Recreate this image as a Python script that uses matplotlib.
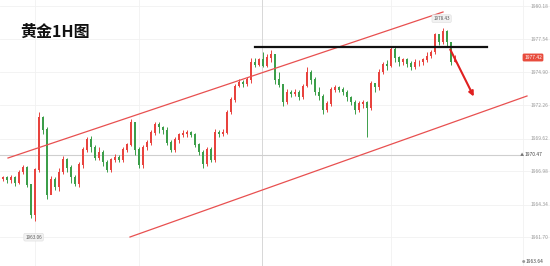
import numpy as np
import matplotlib
matplotlib.use("Agg")
import matplotlib.pyplot as plt

plt.rcParams['font.family'] = ['Noto Sans CJK SC', 'DejaVu Sans']

# 1H gold candles
first_open = 1966.4
close = [1966.5, 1966.3, 1966.5, 1966.1, 1966.9, 1967.3, 1965.9, 1963.5, 1967.1, 1971.3,
         1970.3, 1965.1, 1966.3, 1965.7, 1966.9, 1967.9, 1967.3, 1966.5, 1966.0, 1967.5,
         1968.7, 1969.5, 1968.9, 1968.1, 1968.5, 1967.7, 1967.1, 1967.9, 1968.1, 1967.9,
         1968.7, 1969.1, 1970.9, 1968.7, 1967.5, 1968.9, 1969.3, 1970.1, 1970.7, 1970.5,
         1970.3, 1969.3, 1968.7, 1969.5, 1969.9, 1970.0, 1970.1, 1969.9, 1969.1, 1968.5,
         1967.6, 1968.7, 1967.9, 1970.1, 1970.0, 1970.1, 1971.7, 1972.7, 1973.8, 1974.1,
         1974.0, 1974.3, 1975.7, 1975.5, 1975.9, 1975.4, 1976.1, 1976.3, 1974.3, 1973.9,
         1972.5, 1973.3, 1973.2, 1973.3, 1972.9, 1973.8, 1974.9, 1974.3, 1973.3, 1973.0,
         1971.9, 1972.4, 1973.5, 1973.7, 1973.5, 1973.3, 1972.9, 1972.5, 1971.9, 1972.4,
         1972.5, 1972.1, 1974.0, 1973.7, 1974.9, 1975.5, 1975.4, 1976.7, 1976.1, 1975.7,
         1975.9, 1975.6, 1975.3, 1975.7, 1975.7, 1975.9, 1976.2, 1976.5, 1977.9, 1977.3,
         1978.2, 1977.3, 1975.7, 1976.1]
high = [1966.6, 1966.6, 1966.7, 1966.6, 1967.1, 1967.5, 1967.4, 1966.0, 1967.3, 1971.7,
        1971.4, 1970.5, 1966.6, 1966.5, 1967.3, 1968.2, 1968.1, 1967.5, 1966.7, 1967.7,
        1968.9, 1969.7, 1969.8, 1969.1, 1968.9, 1968.7, 1967.9, 1968.1, 1968.4, 1968.3,
        1968.9, 1969.3, 1971.2, 1970.8, 1968.9, 1969.1, 1969.5, 1970.3, 1970.9, 1970.9,
        1970.6, 1970.5, 1969.5, 1969.7, 1970.1, 1970.3, 1970.3, 1970.2, 1970.1, 1969.3,
        1968.7, 1968.9, 1968.9, 1970.4, 1970.3, 1970.4, 1971.9, 1972.9, 1974.0, 1974.4,
        1974.3, 1974.5, 1976.1, 1976.1, 1976.1, 1976.5, 1976.4, 1976.7, 1976.4, 1974.9,
        1974.0, 1973.6, 1973.5, 1973.6, 1973.5, 1974.0, 1975.3, 1975.1, 1974.5, 1973.7,
        1973.2, 1972.6, 1973.7, 1973.9, 1973.8, 1973.7, 1973.5, 1973.0, 1972.7, 1972.6,
        1972.7, 1972.6, 1974.2, 1974.1, 1975.2, 1975.7, 1975.9, 1976.9, 1977.0, 1976.2,
        1976.1, 1976.1, 1975.8, 1976.0, 1975.9, 1976.1, 1976.5, 1976.7, 1978.1, 1978.0,
        1978.43, 1978.3, 1977.3, 1976.3]
low = [1966.2, 1966.1, 1966.1, 1965.8, 1966.0, 1966.8, 1965.7, 1963.3, 1963.06, 1966.9,
       1970.0, 1964.8, 1965.3, 1965.5, 1965.4, 1966.8, 1966.9, 1966.1, 1965.8, 1965.7,
       1967.3, 1968.5, 1968.5, 1967.9, 1967.9, 1967.4, 1966.9, 1966.9, 1967.7, 1967.7,
       1967.7, 1968.5, 1969.0, 1968.3, 1967.3, 1967.3, 1968.7, 1969.1, 1969.9, 1970.1,
       1970.0, 1969.1, 1968.5, 1968.5, 1969.3, 1969.7, 1969.7, 1969.7, 1968.9, 1968.3,
       1967.3, 1967.4, 1967.7, 1967.7, 1969.7, 1969.8, 1970.0, 1971.6, 1972.5, 1973.7,
       1973.7, 1973.8, 1974.1, 1975.3, 1975.4, 1975.3, 1975.3, 1975.7, 1974.0, 1973.7,
       1972.2, 1972.4, 1972.9, 1973.0, 1972.7, 1972.8, 1973.7, 1974.0, 1973.1, 1972.7,
       1971.6, 1971.7, 1972.2, 1973.3, 1973.3, 1973.1, 1972.6, 1972.3, 1971.6, 1971.7,
       1972.1, 1969.7, 1971.9, 1973.3, 1973.5, 1974.8, 1975.1, 1975.3, 1975.7, 1975.4,
       1975.5, 1975.3, 1975.1, 1975.2, 1975.4, 1975.5, 1975.7, 1976.1, 1976.4, 1977.1,
       1977.2, 1977.0, 1975.5, 1975.7]
open_ = [first_open] + close[:-1]

# drawn lines: (candle index, price)
upper_channel = ([1.25, 110.0], [1968.06, 1979.74])
lower_channel = ([31.75, 131.0], [1961.74, 1973.02])
resistance = ([63.0, 121.0], [1976.94, 1976.94])
arrow_from = (111.5, 1976.94)
arrow_to = (118.0, 1972.78)
price_line = 1968.3
session_x = 64.75

price_ticks = [1961.7, 1964.34, 1966.98, 1969.62, 1972.26, 1974.9, 1977.54, 1980.18]
high_label = "1978.43"
low_label = "1963.06"
last_label = "1977.42"
line_label = "1970.47"
bottom_label = "1963.64"

up_c = '#e8433e'
dn_c = '#3c9e4a'

fig = plt.figure(figsize=(5.5, 2.66), dpi=100)
ax = fig.add_axes([0, 0, 1, 1])
ax.set_xlim(-0.75, 136.75)
ax.set_ylim(1959.42, 1980.7)

x = np.arange(len(close))
o = np.array(open_)
c = np.array(close)
up = c >= o
cols = np.where(up, up_c, dn_c)
ax.vlines(x, low, high, colors=cols, linewidth=0.7, zorder=3)
ax.bar(x, np.abs(c - o) + 0.04, bottom=np.minimum(o, c), width=0.74,
       color=cols, linewidth=0, zorder=4)

# faint grid
for t in price_ticks:
    ax.axhline(t, color='#f1f1f1', linewidth=0.6, zorder=0)
for gx in [8, 34, 64.75, 97, 130]:
    ax.axvline(gx, color='#f1f1f1', linewidth=0.6, zorder=0)
ax.axvline(session_x, color='#d8d8d8', linewidth=0.7, zorder=1)
ax.plot([-0.75, 129], [price_line, price_line], color='#cfcfcf', linewidth=0.8, zorder=1)

ax.plot(*upper_channel, color='#e85050', linewidth=0.9, zorder=5)
ax.plot(*lower_channel, color='#e85050', linewidth=0.9, zorder=5)
ax.plot(*resistance, color='#111111', linewidth=1.6, zorder=6)
ax.annotate('', xy=arrow_to, xytext=arrow_from,
            arrowprops=dict(arrowstyle='-|>', color='#e02020', lw=1.5,
                            mutation_scale=7), zorder=7)

# y axis on the right, inside the figure
ax.yaxis.tick_right()
ax.set_yticks(price_ticks)
ax.set_yticklabels(['%.2f' % t for t in price_ticks])
ax.tick_params(axis='y', direction='in', pad=-14, length=0, labelsize=3.5,
               labelcolor='#9a9a9a')
ax.set_xticks([])
for s in ax.spines.values():
    s.set_visible(False)

box = dict(boxstyle='round,pad=0.3', fc='#f2f2f2', ec='#dddddd', lw=0.4)
hi_i = int(np.argmax(high))
lo_i = int(np.argmin(low))
ax.annotate(high_label, (hi_i, high[hi_i]), xytext=(-1, 7), textcoords='offset points',
            ha='center', va='center', fontsize=3.3, color='#555555', bbox=box, zorder=8)
ax.annotate(low_label, (lo_i, low[lo_i]), xytext=(-1, -12), textcoords='offset points',
            ha='center', va='center', fontsize=3.3, color='#555555', bbox=box, zorder=8)

ax.text(132.5, close[-1], last_label, ha='center', va='center', fontsize=3.5,
        color='white', zorder=9,
        bbox=dict(boxstyle='round,pad=0.3', fc='#e84c3d', ec='none'))
ax.text(132.5, price_line, line_label, ha='center', va='center', fontsize=3.5,
        color='#444444', zorder=9)
ax.text(129.8, price_line, '\u25b2', ha='center', va='center', fontsize=3,
        color='#777777', zorder=9)
ax.text(132.8, 1959.75, bottom_label, ha='center', va='center', fontsize=3.5,
        color='#444444', zorder=9)
ax.text(130.2, 1959.75, '\u25cf', ha='center', va='center', fontsize=2.5,
        color='#999999', zorder=9)

fig.text(20 / 550, 1 - 32 / 266, '黄金1H图', fontsize=11.5, fontweight='bold',
         ha='left', va='center', color='#111111')

fig.savefig('out.png', dpi=100, facecolor='white')
